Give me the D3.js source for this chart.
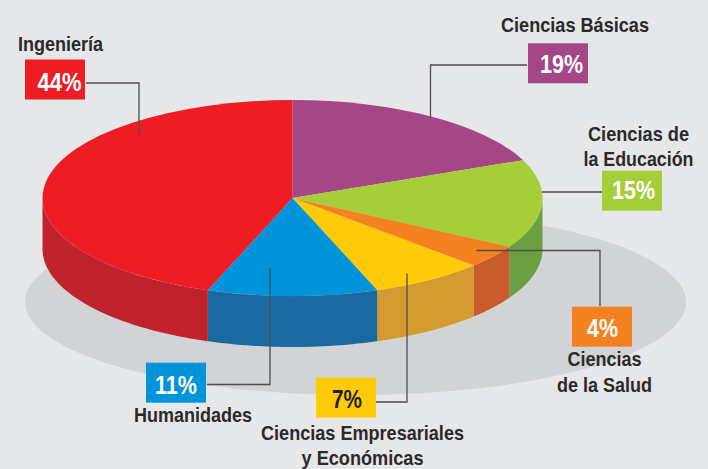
<!DOCTYPE html>
<html>
<head>
<meta charset="utf-8">
<script src="https://cdn.jsdelivr.net/npm/d3@7"></script>
<style>
html,body{margin:0;padding:0;background:#e6e7e9;}
svg{display:block;}
text{font-family:"Liberation Sans",Arial,sans-serif;font-weight:700;}
</style>
</head>
<body>
<svg id="chart" width="708" height="469"></svg>
<script>
// Data
const categories = ["Ciencias Básicas","Ciencias de la Educación","Ciencias de la Salud","Ciencias Empresariales y Económicas","Humanidades","Ingeniería"];
const percentLabels = ["19%","15%","4%","7%","11%","44%"];
// slice shares as actually drawn in the picture (round to the printed labels)
const drawnShares = [18.7,14.6,3.8,7.4,11.0,44.5];
const topColors = ["#a54686","#a6ce39","#f58220","#ffcb08","#0095da","#ee1c25"];
const sideColors = ["#7d3566","#6b9f41","#c85c2c","#d49a2f","#1a6aa1","#c1232d"];
const labelLines = [["Ciencias Básicas"],["Ciencias de","la Educación"],["Ciencias","de la Salud"],["Ciencias Empresariales","y Económicas"],["Humanidades"],["Ingeniería"]];

// Layout
const W=708,H=469;
const cx=292.5,cy=198,rx=250,ry=98,depth=51;
const boxW=60,boxH=40;
const boxes=[[528,43.3],[602,170.7],[572,306.7],[316,377.7],[146,362.7],[25,59.5]];
const percentW=[43,43,31,30,42,44];
const percentX=[561.5,633.5,602.5,347,176,59.5];
const percentY=[72.7,199.3,336.7,407.7,394,90.7];
const percentColor=["#fff","#fff","#fff","#231f20","#fff","#fff"];
// label anchor x, baselines, text widths per line
const labelX=[575,638.5,604.5,362.5,193,60.5];
const labelY=[[32.3],[141,166],[366,391.7],[440,465],[422],[51]];
const labelW=[[148],[101,110],[74,95],[203,122],[118],[85]];
const leaders=[
  [[527,65],[430.5,65],[430.5,118]],
  [[542,192],[602,192]],
  [[476.5,250.5],[600,250.5],[600,306]],
  [[376,402],[407,402],[407,273.5]],
  [[207,384.5],[270,384.5],[270,268]],
  [[86,83],[139,83],[139,135]]
];

const svg=d3.select("#chart");
svg.append("rect").attr("width",W).attr("height",H).attr("fill","#e6e7e9");

// ground shadow
svg.append("ellipse").attr("cx",355.5).attr("cy",302).attr("rx",330.5).attr("ry",93).attr("fill","#d1d3d4");

const pie=d3.pie().sort(null).startAngle(0).endAngle(2*Math.PI);
const arcs=pie(drawnShares);

// projection of a clock angle on to the tilted disc
const px=d3.scaleLinear().domain([-1,1]).range([cx-rx,cx+rx]);
const py=d3.scaleLinear().domain([-1,1]).range([cy-ry,cy+ry]);
const rim=(a,dy)=>[px(Math.sin(a)),py(-Math.cos(a))+dy];
const line=d3.line();

// side walls (only the front half of the rim, angles 90°..270°)
const lo=Math.PI/2,hi=3*Math.PI/2;
svg.append("g").selectAll("path").data(arcs).join("path")
  .attr("fill",(d,i)=>sideColors[i])
  .attr("d",d=>{
    const a0=Math.max(d.startAngle,lo),a1=Math.min(d.endAngle,hi);
    if(a1<=a0) return null;
    const t=d3.range(0,61).map(k=>a0+(a1-a0)*k/60);
    return line(t.map(a=>rim(a,0)).concat(t.slice().reverse().map(a=>rim(a,depth))))+"Z";
  });

// top face
const arc=d3.arc().innerRadius(0).outerRadius(rx);
svg.append("g").attr("transform",`translate(${cx},${cy}) scale(1,${ry/rx})`)
  .selectAll("path").data(arcs).join("path")
  .attr("fill",(d,i)=>topColors[i])
  .attr("d",arc);

// leader lines
svg.append("g").selectAll("path").data(leaders).join("path")
  .attr("fill","none").attr("stroke","#4d4d4f").attr("stroke-width",1.3)
  .attr("d",d=>line(d));

// percent boxes
const g=svg.append("g").selectAll("g").data(categories).join("g");
g.append("rect")
  .attr("x",(d,i)=>boxes[i][0]).attr("y",(d,i)=>boxes[i][1])
  .attr("width",boxW).attr("height",boxH)
  .attr("fill",(d,i)=>topColors[i]);
g.append("text")
  .attr("x",(d,i)=>percentX[i]).attr("y",(d,i)=>percentY[i])
  .attr("text-anchor","middle").attr("font-size",25)
  .attr("fill",(d,i)=>percentColor[i])
  .attr("textLength",(d,i)=>percentW[i]).attr("lengthAdjust","spacingAndGlyphs")
  .text((d,i)=>percentLabels[i]);

// category labels
labelLines.forEach((ls,i)=>{
  ls.forEach((t,j)=>{
    svg.append("text")
      .attr("x",labelX[i]).attr("y",labelY[i][j])
      .attr("text-anchor","middle").attr("font-size",20.5)
      .attr("fill","#2b2a29")
      .attr("textLength",labelW[i][j]).attr("lengthAdjust","spacingAndGlyphs")
      .text(t);
  });
});
</script>
</body>
</html>
